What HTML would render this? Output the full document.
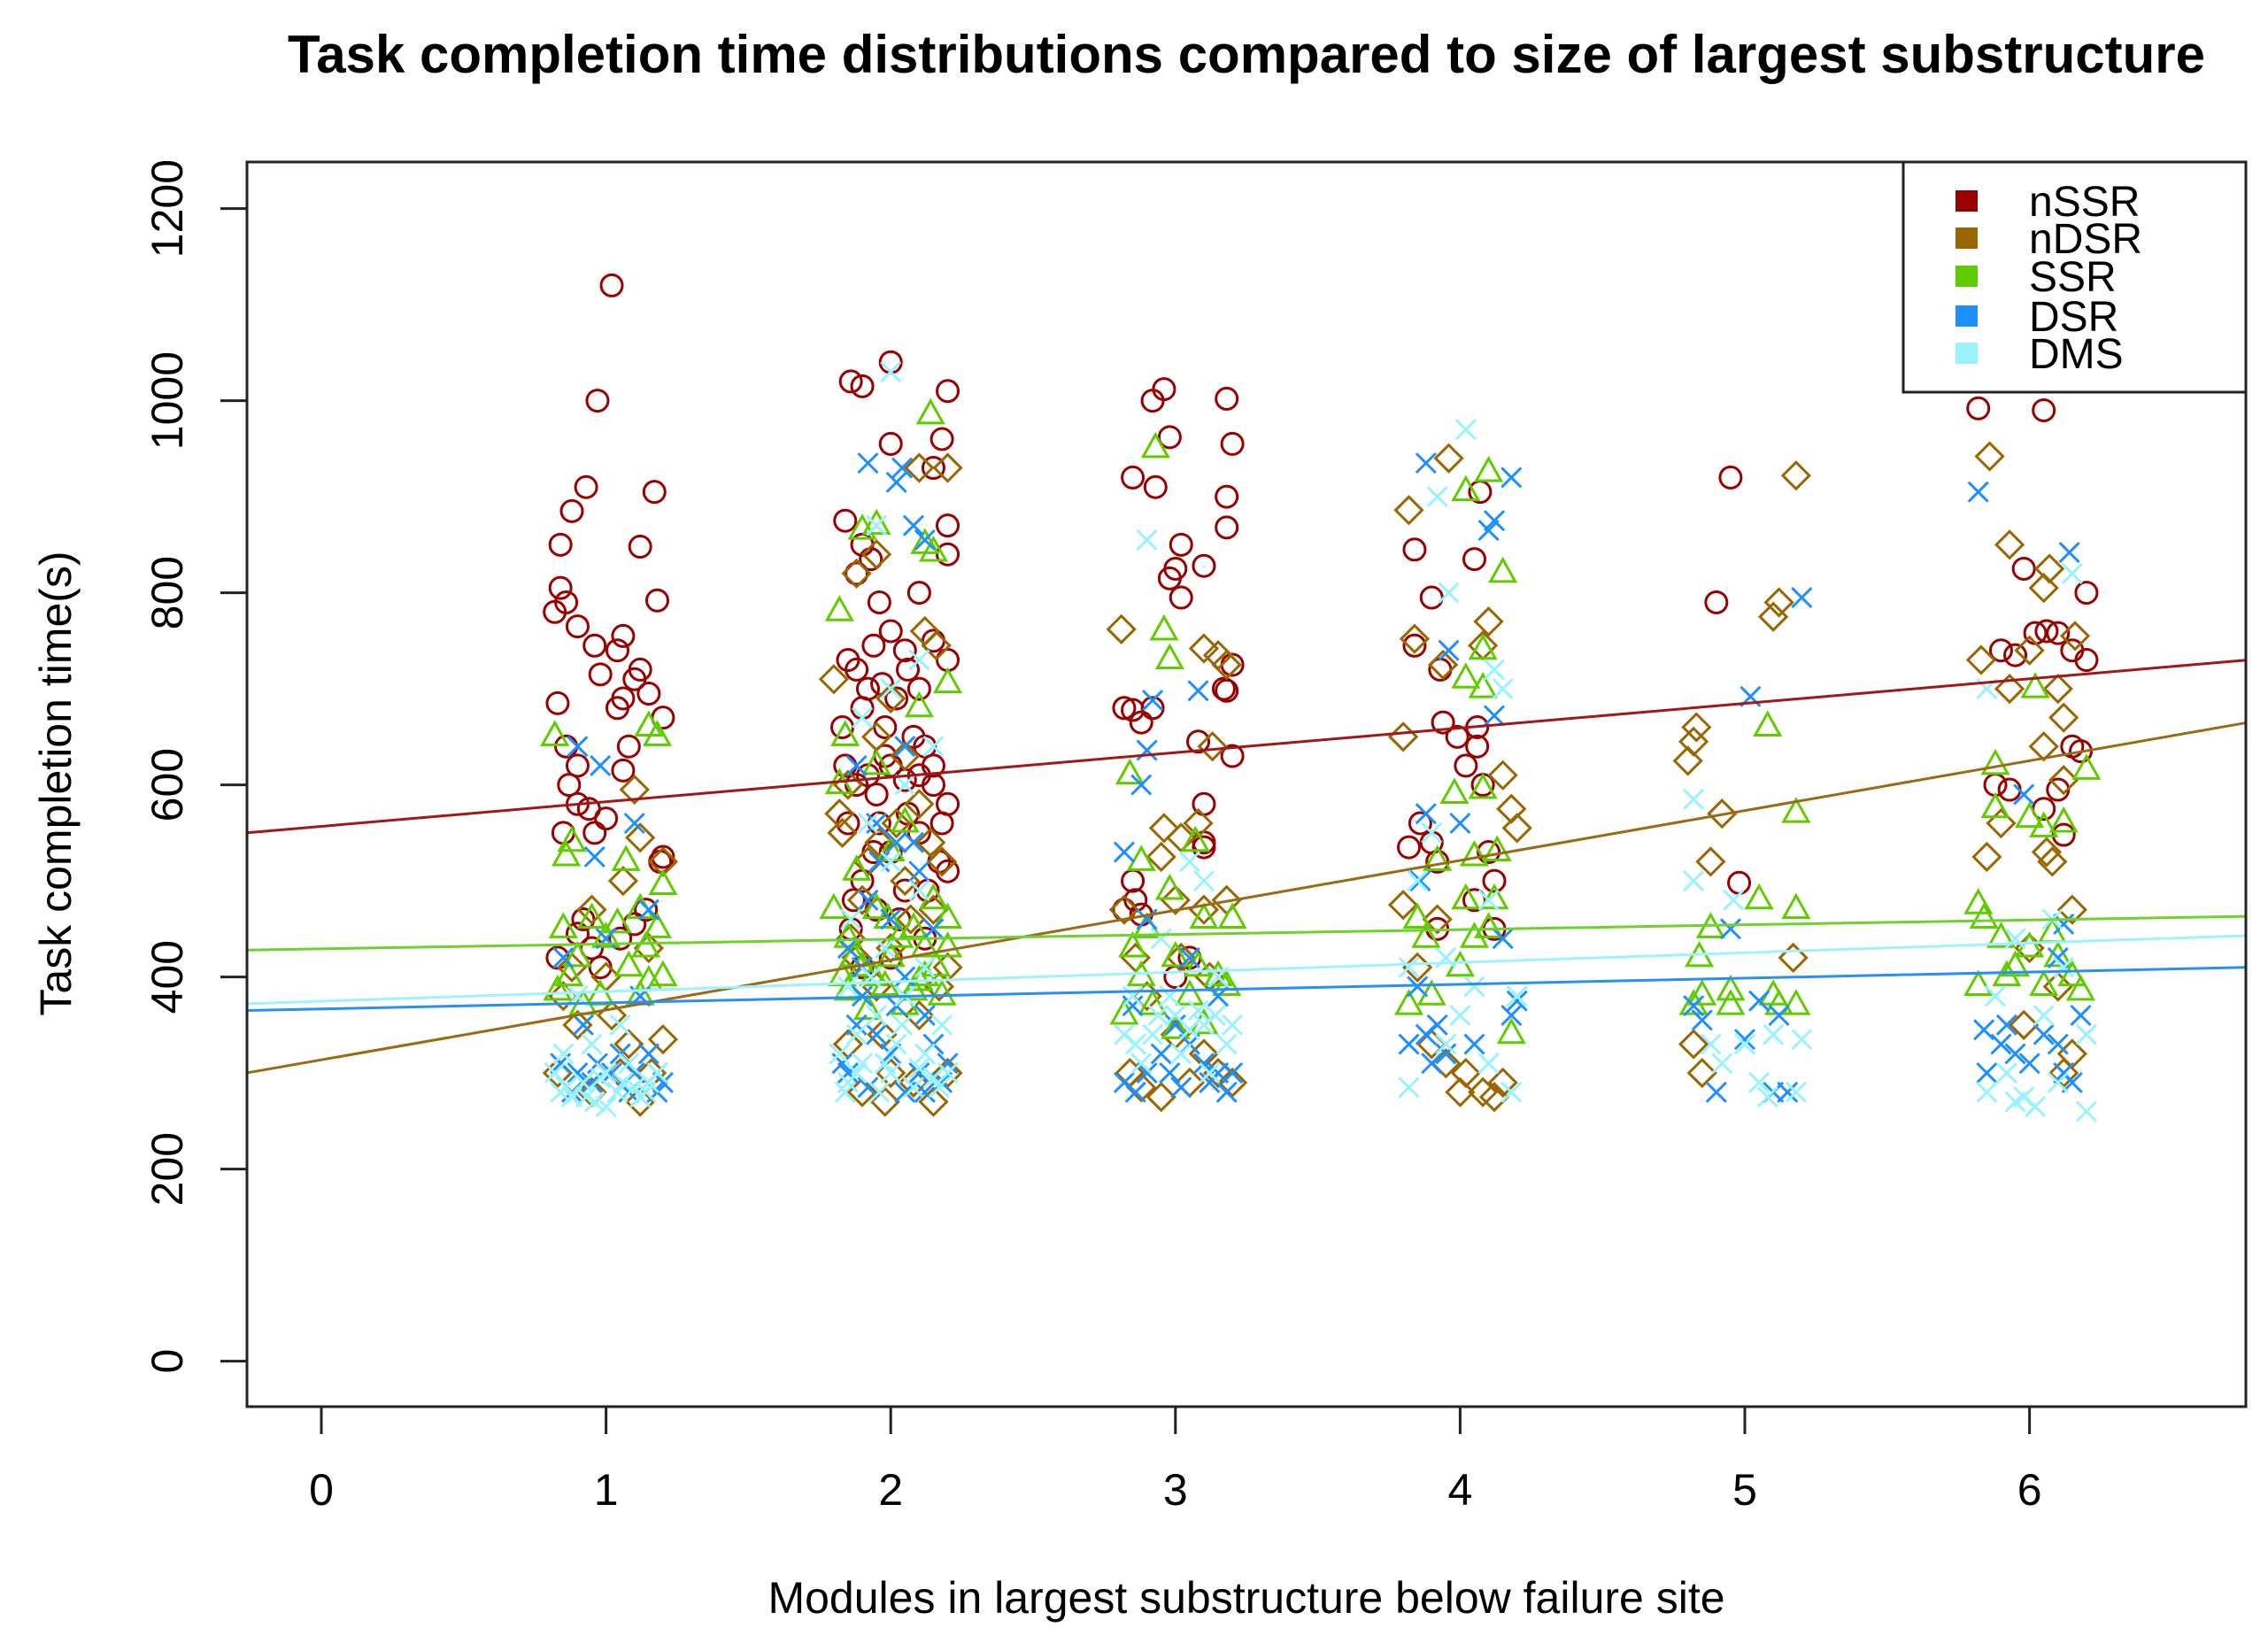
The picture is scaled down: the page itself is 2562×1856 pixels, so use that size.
<!DOCTYPE html>
<html><head><meta charset="utf-8"><style>
html,body{margin:0;padding:0;background:#fff}
svg{display:block}
text{font-family:"Liberation Sans",sans-serif;fill:#000}
</style></head><body>
<svg id="chart" width="2562" height="1856" viewBox="0 0 2562 1856" xmlns="http://www.w3.org/2000/svg">
<text x="1408" y="82" text-anchor="middle" font-size="60" font-weight="bold">Task completion time distributions compared to size of largest substructure</text>
<g id="marks"></g>
<rect x="279" y="183" width="2258" height="1406" fill="none" stroke="#222" stroke-width="3"/>
<g id="axes"></g>
<text transform="translate(80,885) rotate(-90)" text-anchor="middle" font-size="50">Task completion time(s)</text>
<text x="1408" y="1822" text-anchor="middle" font-size="50">Modules in largest substructure below failure site</text>
<g>
<rect x="2150" y="183" width="387" height="260" fill="#fff" stroke="#222" stroke-width="3"/>
<g id="legend-items"></g>
</g>
</svg>
<script>
const seriesNames = ["nSSR","nDSR","SSR","DSR","DMS"];
const seriesColors = ["#990000","#996600","#5fcc00","#1e8fff","#98f3ff"];
const lineColors = ["#a01818","#9a6a14","#6fd030","#2a90f0","#a0f0ff"];
const xTicks = [0,1,2,3,4,5,6];
const yTicks = [0,200,400,600,800,1000,1200];
// regression lines: [intercept, slope]
const fitIntercepts = [556.8, 313.7, 429.3, 366.7, 374.7];
const fitSlopes = [25.6, 51.9, 5.0, 6.4, 10.1];

const nSSR = [[1.02,1120],[0.97,1000],[0.93,910],[0.88,885],[0.84,850],[1.17,905],[1.12,848],[0.84,805],[0.82,780],[0.86,790],[1.18,792],[0.9,765],[1.06,755],[1.04,740],[0.96,745],[1.12,720],[1.1,710],[0.98,715],[1.15,695],[1.06,690],[1.2,670],[1.04,680],[0.83,685],[1.08,640],[0.86,640],[0.9,620],[1.06,615],[0.87,600],[0.9,580],[0.94,575],[1.0,565],[0.96,550],[0.85,550],[1.2,525],[1.19,520],[0.92,460],[0.98,410],[1.05,440],[0.9,445],[0.83,420],[1.1,455],[1.14,470],[0.95,430],
[2.0,1040],[1.86,1020],[1.9,1015],[2.2,1010],[2.0,955],[2.18,960],[2.15,930],[1.84,875],[2.2,870],[1.9,850],[1.88,820],[1.93,835],[2.1,800],[1.96,790],[2.2,840],[2.0,760],[1.94,745],[2.05,740],[1.85,730],[1.88,720],[1.97,705],[2.1,700],[2.2,730],[2.15,750],[2.02,690],[1.9,680],[1.98,660],[2.12,640],[2.0,620],[1.92,610],[1.88,600],[2.05,605],[1.95,590],[2.15,620],[2.2,580],[1.85,560],[1.96,560],[2.1,550],[2.0,530],[2.17,520],[1.9,500],[2.05,490],[2.2,510],[1.95,470],[1.86,450],[2.12,440],[2.0,420],[1.9,410],[2.15,600],[2.08,650],[1.84,620],[2.06,570],[1.94,530],[2.13,490],[1.87,480],[2.03,460],[2.18,560],[1.98,630],[2.1,610],[1.92,700],[2.06,720],[1.83,660],
[2.92,1000],[2.96,1012],[3.18,1002],[2.98,962],[3.2,955],[2.85,920],[2.93,910],[3.18,900],[3.18,868],[3.02,850],[3.0,825],[3.1,828],[2.98,815],[3.02,795],[3.2,725],[3.17,700],[3.18,698],[3.08,645],[3.2,630],[2.82,680],[2.85,678],[2.92,680],[2.88,665],[3.1,580],[3.1,540],[3.1,535],[2.85,500],[2.82,470],[2.86,480],[2.88,465],[3.05,420],[3.0,400],
[4.07,905],[3.84,845],[4.05,835],[3.9,795],[3.84,745],[3.93,720],[3.99,650],[3.94,665],[4.06,660],[4.06,640],[4.08,600],[4.02,620],[3.86,560],[3.9,540],[3.82,535],[3.92,520],[4.12,500],[4.12,450],[3.92,450],[4.05,480],[4.1,530],
[4.95,920],[4.9,790],[4.98,498],
[5.82,992],[6.05,990],[6.2,800],[5.98,825],[5.9,740],[5.95,735],[6.02,758],[6.06,760],[6.1,758],[6.15,740],[6.2,730],[6.18,635],[6.15,640],[5.88,600],[5.93,595],[6.1,595],[6.05,575],[6.12,548]];
const nDSR = [[1.1,595],[1.12,545],[1.06,500],[1.2,520],[0.95,470],[1.15,430],[1.0,400],[0.85,380],[0.9,350],[1.08,330],[1.2,335],[0.83,300],[0.95,280],[1.12,270],[1.05,300],[0.88,410],[1.02,360],[1.16,300],
[2.1,930],[2.2,930],[1.95,840],[1.88,820],[2.12,760],[2.16,745],[1.8,710],[2.0,690],[1.95,650],[2.05,630],[1.85,600],[2.1,580],[1.83,550],[1.96,540],[2.18,520],[2.05,500],[1.9,480],[2.15,470],[1.86,440],[2.0,430],[2.2,410],[1.95,390],[2.1,360],[1.85,330],[2.0,300],[1.98,270],[2.15,270],[2.2,300],[1.9,280],[2.08,290],[1.82,570],[2.02,560],[2.14,540],[1.92,520],[2.07,460],[1.88,420],[2.17,390],[1.97,340],
[2.81,762],[3.1,742],[3.15,735],[3.18,725],[3.13,640],[3.08,560],[3.02,545],[2.96,555],[2.95,525],[3.1,470],[3.18,480],[3.0,480],[2.82,470],[2.86,420],[3.02,420],[3.12,400],[2.9,380],[3.0,340],[3.15,300],[3.05,290],[2.88,285],[3.2,290],[2.95,275],[2.84,300],[3.1,320],
[3.96,940],[3.82,886],[3.84,752],[3.94,725],[4.1,770],[4.08,745],[3.8,650],[4.15,610],[4.18,575],[4.2,555],[3.92,460],[3.8,475],[3.85,410],[3.9,330],[4.02,300],[4.08,280],[4.15,290],[4.0,280],[4.12,275],[3.95,310],
[5.18,922],[5.12,790],[5.1,775],[4.83,660],[4.82,645],[4.8,625],[4.92,570],[5.17,420],[4.88,520],[4.82,330],[4.85,300],
[5.86,942],[5.93,850],[6.07,825],[6.05,805],[6.0,740],[6.16,755],[5.83,730],[5.93,700],[6.1,700],[6.12,670],[6.05,640],[6.12,605],[6.06,530],[5.85,525],[5.9,560],[6.08,520],[6.15,470],[6.0,430],[6.1,390],[6.15,320],[6.12,300],[5.98,350]];
const SSR = [[0.82,650],[0.88,540],[0.86,525],[1.15,660],[1.18,650],[1.07,520],[1.2,495],[0.95,460],[1.12,470],[0.85,450],[1.0,440],[1.18,450],[0.9,420],[1.08,410],[1.15,395],[0.83,385],[0.98,380],[1.12,380],[0.92,370],[1.2,400],[1.04,455],[0.87,400],[1.14,430],
[2.14,985],[1.95,870],[1.9,865],[2.12,850],[2.15,842],[1.82,780],[2.2,705],[1.84,650],[2.1,680],[1.95,620],[1.82,600],[2.05,560],[2.0,530],[1.88,510],[2.15,480],[1.95,470],[2.08,450],[1.85,440],[2.2,430],[2.0,420],[1.9,410],[2.12,400],[1.98,390],[1.85,385],[2.18,380],[2.05,370],[1.92,365],[2.1,395],[2.2,460],[1.8,470],[1.87,420],[2.03,440],[2.16,410],[1.94,400],[2.08,385],[1.83,400],[2.12,430],[1.99,460],
[2.93,950],[2.96,760],[2.98,730],[2.84,610],[3.07,540],[2.88,520],[2.98,490],[3.1,460],[2.9,450],[3.2,460],[2.85,430],[3.0,420],[3.15,400],[3.05,380],[2.92,370],[3.18,390],[2.82,360],[3.1,350],[3.0,345],[2.88,400],[3.08,410],
[4.1,925],[4.02,905],[4.15,820],[4.08,740],[4.02,710],[4.08,700],[3.98,590],[4.08,595],[4.05,525],[4.13,530],[3.92,520],[4.02,480],[4.12,480],[3.85,460],[4.05,440],[4.1,450],[3.88,440],[4.0,410],[4.18,340],[3.82,370],[3.9,380],
[5.08,660],[5.18,570],[5.18,470],[5.05,480],[4.88,450],[4.84,420],[5.1,380],[4.95,385],[4.82,370],[5.12,370],[5.18,370],[4.95,370],[4.85,380],
[6.02,700],[5.88,620],[6.2,615],[5.88,575],[6.0,565],[6.05,555],[6.12,560],[5.82,475],[5.84,460],[5.9,440],[6.0,430],[6.1,420],[5.95,410],[6.15,400],[5.82,390],[6.05,390],[6.18,385],[5.92,400],[6.08,445]];
const DSR = [[0.9,640],[0.98,620],[0.96,525],[1.1,560],[1.15,470],[1.0,440],[0.85,420],[1.12,380],[0.92,350],[1.05,320],[0.84,310],[1.18,300],[0.95,290],[1.08,280],[1.2,290],[0.88,280],[1.02,300],[1.15,320],[0.9,300],[1.1,300],[0.97,310],[1.18,280],
[1.92,935],[2.04,930],[2.02,915],[2.08,870],[2.12,855],[2.05,640],[1.88,620],[1.95,560],[2.02,540],[2.1,510],[1.92,480],[2.0,460],[2.15,450],[1.85,430],[2.05,400],[1.9,380],[2.12,360],[1.95,340],[2.0,320],[2.1,300],[1.85,300],[2.18,290],[1.92,285],[2.05,280],[2.2,310],[1.88,350],[2.02,370],[1.96,520],[2.08,540],[1.9,410],[2.15,330],[1.83,310],[2.12,280],
[2.92,688],[3.08,698],[2.9,636],[2.88,600],[2.82,530],[2.9,460],[3.05,420],[3.15,380],[2.85,370],[3.0,350],[2.95,320],[3.1,310],[2.82,290],[3.18,280],[3.02,285],[2.9,300],[3.15,300],[3.05,330],[2.86,280],[3.12,290],[2.98,300],[3.2,300],
[3.88,935],[4.18,920],[4.12,875],[4.1,865],[3.96,740],[4.12,672],[4.0,560],[3.88,570],[3.86,500],[4.15,440],[4.2,375],[3.85,390],[3.92,350],[3.82,330],[3.95,320],[3.9,310],[4.05,330],[4.18,360],[3.88,340],
[5.2,795],[5.02,692],[4.95,450],[4.82,370],[4.85,355],[5.0,335],[4.9,280],[5.1,280],[5.15,280],[5.05,375],[5.12,360],
[5.82,905],[6.14,842],[5.98,590],[6.12,455],[6.1,420],[5.84,345],[5.9,330],[5.95,320],[5.85,300],[6.0,310],[6.12,300],[6.15,290],[6.18,360],[6.1,330],[5.92,350],[6.05,340]];
const DMS = [[0.9,380],[1.05,350],[0.85,320],[1.0,300],[0.92,290],[1.1,285],[0.88,275],[0.96,270],[1.04,280],[1.15,290],[0.82,300],[1.0,265],[1.08,310],[0.95,330],[1.18,300],[0.86,285],[1.12,275],[0.98,295],[0.84,280],[1.06,290],[0.93,275],[1.14,280],
[2.0,1030],[1.95,870],[2.1,730],[2.0,700],[1.9,670],[2.15,640],[2.05,600],[1.92,560],[2.0,520],[2.1,490],[1.86,460],[1.98,430],[2.12,410],[1.85,390],[2.05,380],[1.95,360],[2.18,350],[1.88,340],[2.02,330],[2.12,320],[1.9,310],[2.0,300],[2.15,295],[1.85,290],[2.08,285],[1.96,280],[2.2,300],[1.82,320],[2.04,350],[1.93,400],[1.88,300],[2.1,305],[1.98,310],[2.17,285],[1.84,280],
[2.9,855],[3.05,520],[3.1,500],[2.95,440],[3.15,400],[2.85,380],[3.0,360],[3.1,350],[2.92,340],[3.18,330],[3.02,320],[2.88,310],[3.12,300],[2.98,380],[3.08,365],[2.82,340],[3.2,350],[3.05,345],[2.94,360],[3.14,360],[2.86,330],
[4.02,970],[3.92,900],[3.96,800],[4.12,720],[4.15,700],[3.9,550],[3.85,500],[4.1,480],[3.95,420],[3.82,410],[4.05,390],[4.2,380],[3.82,285],[4.18,280],[3.95,330],[4.1,310],[4.0,360],
[4.82,585],[4.82,500],[4.96,480],[5.1,340],[5.2,335],[5.0,330],[4.92,310],[5.05,290],[5.18,280],[5.08,275],[4.88,330],
[6.15,820],[5.85,700],[6.08,460],[5.95,440],[6.12,410],[5.88,380],[6.05,360],[6.2,340],[5.92,300],[5.85,280],[5.95,270],[6.02,265],[6.2,260],[6.1,290],[5.98,275]];
const seriesData = [nSSR, nDSR, SSR, DSR, DMS];

const NS = "http://www.w3.org/2000/svg";
const X0 = 363, XS = 321.6, Y0 = 1537.6, YS = 1.085;
const PL = 279, PR = 2537;
function sx(v){ return X0 + v*XS; }
function sy(v){ return Y0 - v*YS; }
function mk(tag, attrs, parent){ const e=document.createElementNS(NS,tag); for(const k in attrs) e.setAttribute(k,attrs[k]); parent.appendChild(e); return e; }

const marks = document.getElementById('marks');
const shapes = ['circle','diamond','triangle','cross','cross'];
seriesData.forEach((pts, si) => {
  const g = mk('g', {fill:'none', stroke:seriesColors[si], 'stroke-width':3}, marks);
  
  
  pts.forEach(p => {
    const x = sx(p[0]), y = sy(p[1]);
    let el;
    if (shapes[si]==='circle') el = mk('circle',{cx:x,cy:y,r:12},g);
    else if (shapes[si]==='diamond') el = mk('path',{d:`M${x} ${y-15}L${x+15} ${y}L${x} ${y+15}L${x-15} ${y}Z`},g);
    else if (shapes[si]==='triangle') el = mk('path',{d:`M${x} ${y-16}L${x+14} ${y+9}L${x-14} ${y+9}Z`},g);
    else el = mk('path',{d:`M${x-11} ${y-11}L${x+11} ${y+11}M${x+11} ${y-11}L${x-11} ${y+11}`},g);
    
    
  });
});
const xmin = (PL - X0)/XS, xmax = (PR - X0)/XS;
fitIntercepts.forEach((b, si) => {
  const m = fitSlopes[si];
  const l = mk('line',{x1:PL,y1:sy(b+m*xmin),x2:PR,y2:sy(b+m*xmax),stroke:lineColors[si],'stroke-width':3}, marks);
  
  
});

const axes = document.getElementById('axes');
xTicks.forEach(t => {
  const x = sx(t);
  const tk = mk('line',{x1:x,y1:1589,x2:x,y2:1620,stroke:'#222','stroke-width':3},axes);
  
  
  const tx = mk('text',{x:x,y:1700,'text-anchor':'middle','font-size':50},axes);
  tx.textContent = t;
  
  
});
yTicks.forEach(t => {
  const y = sy(t);
  const tk = mk('line',{x1:249,y1:y,x2:279,y2:y,stroke:'#222','stroke-width':3},axes);
  
  
  const tx = mk('text',{transform:`translate(206,${y}) rotate(-90)`,'text-anchor':'middle','font-size':50},axes);
  tx.textContent = t;
  
  
});

const li = document.getElementById('legend-items');
const legY = [227,269,312,357,399];
seriesNames.forEach((n, i) => {
  const r = mk('rect',{x:2209,y:legY[i]-12,width:25,height:24,fill:seriesColors[i]},li);
  
  
  const t = mk('text',{x:2292,y:legY[i]+17,'font-size':48},li);
  t.textContent = n;
  
  
});
</script>
</body></html>
